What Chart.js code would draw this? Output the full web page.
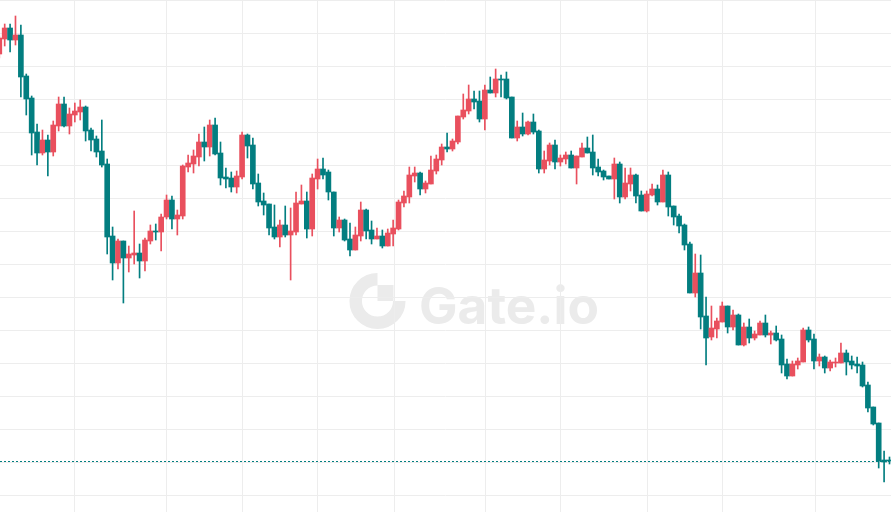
<!DOCTYPE html>
<html>
<head>
<meta charset="utf-8">
<script src="https://cdn.jsdelivr.net/npm/chart.js@4/dist/chart.umd.min.js"></script>
<style>
  html, body { margin: 0; padding: 0; background: #fff; }
  #wrap { width: 891px; height: 512px; position: relative; }
</style>
</head>
<body>
<div id="wrap"><canvas id="kline"></canvas></div>
<script>
// candle values, one entry per candle, oldest first
const openPrices = [
  474, 489, 500, 488, 493, 452, 430, 396, 375, 388, 376, 402, 424, 402, 413, 416, 421, 398, 389, 377,
  364, 292, 265, 287, 270, 273, 275, 267, 287, 297, 296, 311, 328, 309, 312, 361, 364, 371, 386, 381,
  403, 375, 351, 350, 341, 351, 393, 383, 345, 327, 324, 301, 291, 303, 293, 296, 324, 327, 299, 349,
  359, 356, 336, 300, 308, 289, 278, 292, 318, 298, 289, 292, 282, 294, 299, 325, 331, 352, 355, 339,
  344, 357, 368, 381, 379, 386, 411, 417, 429, 427, 409, 438, 435, 449, 449, 431, 390, 401, 394, 406,
  397, 359, 367, 383, 366, 369, 373, 360, 371, 380, 376, 361, 357, 352, 349, 364, 331, 344, 353, 333,
  317, 333, 339, 326, 353, 322, 312, 303, 284, 235, 255, 212, 191, 199, 206, 222, 201, 213, 183, 201,
  190, 193, 205, 193, 195, 189, 164, 152, 163, 166, 198, 189, 167, 171, 160, 165, 165, 175, 167, 164,
  163, 143, 121, 105, 68, 68
]
const highPrices = [
  492, 504, 504, 512, 503, 454, 432, 404, 398, 393, 407, 431, 431, 420, 425, 428, 422, 400, 392, 408,
  369, 301, 289, 287, 282, 317, 284, 290, 303, 304, 314, 333, 332, 318, 363, 373, 378, 394, 401, 408,
  410, 386, 360, 356, 357, 396, 394, 390, 354, 335, 324, 323, 308, 322, 320, 336, 343, 336, 354, 369,
  370, 358, 336, 311, 309, 305, 301, 326, 319, 307, 300, 298, 299, 308, 328, 337, 361, 361, 356, 347,
  372, 373, 384, 395, 389, 412, 434, 443, 437, 437, 443, 451, 459, 453, 456, 431, 407, 415, 407, 414,
  398, 377, 385, 388, 373, 376, 377, 372, 385, 391, 393, 369, 358, 352, 370, 366, 360, 360, 354, 337,
  337, 344, 343, 358, 356, 322, 314, 304, 286, 274, 273, 231, 222, 210, 226, 222, 218, 214, 205, 209,
  197, 207, 213, 197, 202, 193, 169, 167, 170, 200, 201, 194, 174, 172, 168, 170, 185, 178, 172, 171,
  166, 146, 121, 105, 77, 71
]
const lowPrices = [
  470, 482, 476, 483, 431, 413, 373, 363, 373, 352, 372, 397, 401, 394, 406, 408, 387, 377, 371, 361,
  274, 248, 259, 225, 256, 264, 250, 257, 284, 288, 277, 309, 299, 293, 309, 356, 355, 362, 367, 372,
  373, 343, 340, 336, 335, 349, 370, 339, 322, 313, 293, 289, 281, 291, 248, 293, 324, 290, 292, 339,
  349, 328, 292, 296, 287, 272, 278, 287, 289, 284, 289, 280, 282, 282, 298, 321, 325, 346, 333, 335,
  344, 354, 363, 376, 377, 384, 409, 414, 419, 406, 398, 435, 431, 431, 429, 390, 387, 392, 393, 394,
  355, 355, 363, 359, 362, 364, 360, 344, 371, 375, 353, 352, 348, 349, 329, 325, 329, 337, 325, 317,
  316, 332, 323, 326, 312, 303, 295, 278, 235, 231, 199, 163, 188, 190, 206, 195, 198, 183, 182, 185,
  188, 193, 191, 184, 187, 155, 149, 152, 159, 166, 186, 159, 162, 155, 157, 161, 165, 153, 159, 155,
  141, 116, 103, 60, 46, 64
]
const closePrices = [
  490, 500, 488, 493, 451, 429, 395, 375, 388, 376, 403, 424, 402, 414, 417, 421, 397, 388, 376, 363,
  291, 265, 287, 270, 274, 275, 267, 288, 297, 296, 311, 328, 309, 313, 362, 365, 372, 386, 381, 403,
  374, 350, 349, 341, 352, 393, 382, 344, 326, 323, 300, 291, 303, 293, 297, 325, 327, 299, 350, 359,
  353, 336, 300, 308, 288, 278, 293, 318, 297, 289, 292, 282, 295, 300, 326, 332, 353, 355, 339, 345,
  358, 369, 381, 379, 387, 412, 418, 429, 426, 409, 438, 435, 449, 448, 430, 390, 401, 394, 406, 396,
  359, 368, 383, 366, 370, 373, 360, 372, 380, 375, 360, 356, 351, 349, 364, 331, 345, 353, 332, 317,
  334, 339, 326, 353, 321, 311, 302, 283, 235, 255, 211, 190, 200, 207, 222, 201, 213, 183, 201, 190,
  194, 205, 193, 195, 188, 163, 152, 164, 167, 198, 188, 167, 171, 160, 166, 166, 175, 166, 163, 162,
  142, 120, 104, 67, 66, 67
]
// candle numbers where the time grid lines fall
const timeGrid = [14, 31, 45, 59, 73.2, 90.1, 104.1, 120.2, 134.1, 151.3]
const priceGrid = [33, 66, 99, 132, 165, 198, 231, 264, 297, 330, 363, 396, 429, 462, 495, 528]

const UP = '#e9505e'
const DOWN = '#037e80'

const candleColors = closePrices.map((c, i) => (c > openPrices[i] ? UP : DOWN))
const bodies = openPrices.map((o, i) => ({ x: i, y: [o, closePrices[i]] }))
const wicks = lowPrices.map((l, i) => ({ x: i, y: [l, highPrices[i]] }))

// faint Gate.io mark behind the grid
const watermark = {
  id: 'watermark',
  beforeDraw: (chart) => {
    const ctx = chart.ctx
    ctx.save()
    ctx.fillStyle = '#ebebeb'
    ctx.strokeStyle = '#ebebeb'
    const cx = 377.5
    const cy = 301
    ctx.lineWidth = 12.5
    ctx.beginPath()
    ctx.arc(cx, cy, 21.8, 0, Math.PI * 1.5)
    ctx.stroke()
    ctx.fillRect(cx, cy - 16, 16, 16)
    let size = 60
    ctx.font = `700 ${size}px Inter`
    const w = ctx.measureText('Gate.io').width
    size = size * 180 / w
    ctx.font = `700 ${size}px Inter`
    ctx.textBaseline = 'alphabetic'
    ctx.fillText('Gate.io', 419, 323.5)
    ctx.restore()
  }
}

// dotted line at the last close
const lastPrice = {
  id: 'lastPrice',
  afterDatasetsDraw: (chart) => {
    const { ctx, chartArea, scales } = chart
    const y = Math.round(scales.y.getPixelForValue(closePrices[closePrices.length - 1])) + 0.5
    ctx.save()
    ctx.strokeStyle = DOWN
    ctx.lineWidth = 1
    ctx.setLineDash([2, 2])
    ctx.beginPath()
    ctx.moveTo(chartArea.left, y)
    ctx.lineTo(chartArea.right, y)
    ctx.stroke()
    ctx.restore()
  }
}

new Chart(document.getElementById('kline'), {
  type: 'bar',
  data: {
    datasets: [
      {
        label: 'wick',
        data: wicks,
        backgroundColor: candleColors,
        barThickness: 1,
        grouped: false,
        borderWidth: 0
      },
      {
        label: 'body',
        data: bodies,
        backgroundColor: candleColors,
        barThickness: 5,
        minBarLength: 1,
        grouped: false,
        borderWidth: 0
      }
    ]
  },
  options: {
    responsive: true,
    maintainAspectRatio: false,
    animation: false,
    layout: { padding: 0 },
    plugins: {
      legend: { display: false },
      tooltip: { enabled: false }
    },
    scales: {
      x: {
        type: 'linear',
        min: 0.13,
        max: 165.28,
        offset: false,
        afterBuildTicks: (axis) => { axis.ticks = timeGrid.map((v) => ({ value: v })) },
        ticks: { display: false },
        grid: { color: '#ededed', drawTicks: false, offset: false },
        border: { display: true, color: '#b8b8b8', width: 1 }
      },
      y: {
        min: 16,
        max: 528,
        afterBuildTicks: (axis) => { axis.ticks = priceGrid.map((v) => ({ value: v })) },
        ticks: { display: false },
        grid: { color: '#ededed', drawTicks: false },
        border: { display: false }
      }
    }
  },
  plugins: [watermark, lastPrice]
})
</script>
</body>
</html>
